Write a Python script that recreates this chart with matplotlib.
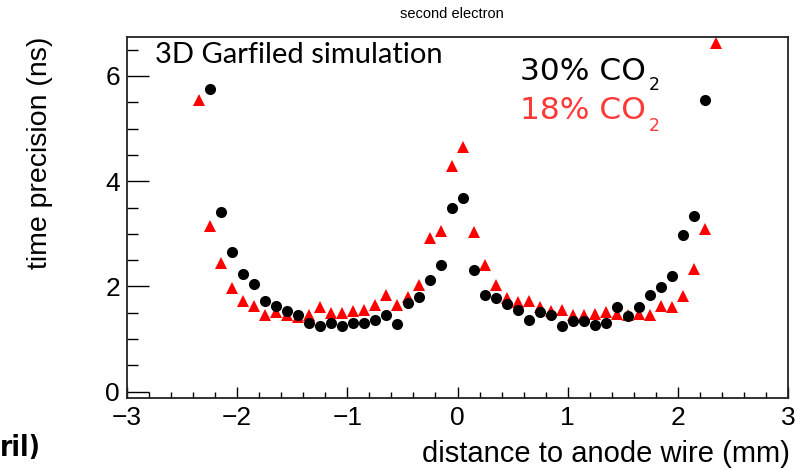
import matplotlib
matplotlib.use("Agg")
import matplotlib.pyplot as plt
from matplotlib.ticker import MultipleLocator

# --- data -------------------------------------------------------------
x_co2_30 = [-2.25, -2.15, -2.05, -1.95, -1.85, -1.75, -1.65, -1.55, -1.45, -1.35,
            -1.25, -1.15, -1.05, -0.95, -0.85, -0.75, -0.65, -0.55, -0.45, -0.35,
            -0.25, -0.15, -0.05, 0.05, 0.15, 0.25, 0.35, 0.45, 0.55, 0.65,
            0.75, 0.85, 0.95, 1.05, 1.15, 1.25, 1.35, 1.45, 1.55, 1.65,
            1.75, 1.85, 1.95, 2.05, 2.15, 2.25]
y_co2_30 = [5.76, 3.42, 2.65, 2.24, 2.05, 1.73, 1.62, 1.53, 1.46, 1.31,
            1.25, 1.30, 1.24, 1.31, 1.31, 1.37, 1.46, 1.29, 1.69, 1.80,
            2.13, 2.40, 3.50, 3.69, 2.32, 1.84, 1.78, 1.67, 1.56, 1.37,
            1.51, 1.46, 1.25, 1.35, 1.35, 1.27, 1.31, 1.61, 1.43, 1.61,
            1.83, 1.98, 2.19, 2.98, 3.33, 5.55]

x_co2_18 = [-2.35, -2.25, -2.15, -2.05, -1.95, -1.85, -1.75, -1.65, -1.55, -1.45,
            -1.35, -1.25, -1.15, -1.05, -0.95, -0.85, -0.75, -0.65, -0.55, -0.45,
            -0.35, -0.25, -0.15, -0.05, 0.05, 0.15, 0.25, 0.35, 0.45, 0.55,
            0.65, 0.75, 0.85, 0.95, 1.05, 1.15, 1.25, 1.35, 1.45, 1.55,
            1.65, 1.75, 1.85, 1.95, 2.05, 2.15, 2.25, 2.35]
y_co2_18 = [5.54, 3.14, 2.45, 1.97, 1.72, 1.63, 1.45, 1.51, 1.46, 1.42,
            1.46, 1.60, 1.49, 1.49, 1.53, 1.55, 1.65, 1.84, 1.64, 1.79,
            2.02, 2.92, 3.05, 4.28, 4.65, 3.03, 2.41, 2.03, 1.78, 1.71,
            1.73, 1.61, 1.53, 1.55, 1.46, 1.46, 1.48, 1.51, 1.48, 1.46,
            1.48, 1.46, 1.62, 1.60, 1.81, 2.33, 3.09, 6.62]

title = "second electron"
x_label = "distance to anode wire (mm)"
y_label = "time precision (ns)"
label_30 = "30% CO"
label_18 = "18% CO"
subscript = "2"
sim_text = "3D Garfiled simulation"
fragment = "ril)"

# --- figure -----------------------------------------------------------
W, H = 808, 471
fig = plt.figure(figsize=(W / 100, H / 100), dpi=100)
ax = fig.add_axes([127 / W, 1 - 398 / H, (788 - 127) / W, (398 - 37) / H])

ax.plot(x_co2_18, y_co2_18, linestyle="none", marker="^", ms=9, color="#ff0000",
        markeredgewidth=0)
ax.plot(x_co2_30, y_co2_30, linestyle="none", marker="o", ms=8, color="black",
        markeredgewidth=0)

ax.set_xlim(-3, 3)
ax.set_ylim(-0.12, 6.74)

ax.xaxis.set_major_locator(MultipleLocator(1))
ax.xaxis.set_minor_locator(MultipleLocator(0.2))
ax.yaxis.set_major_locator(MultipleLocator(2))
ax.yaxis.set_minor_locator(MultipleLocator(0.5))

tickfont = "Liberation Sans"
ax.tick_params(axis="x", which="major", direction="in", length=8, width=1.0,
               pad=6, labelsize=19, top=False)
ax.tick_params(axis="x", which="minor", direction="in", length=4, width=1.0, top=False)
ax.tick_params(axis="y", which="major", direction="in", length=16, width=1.0,
               pad=5, labelsize=19, right=False)
ax.tick_params(axis="y", which="minor", direction="in", length=8, width=1.0, right=False)
for lab in ax.get_xticklabels() + ax.get_yticklabels():
    lab.set_fontfamily(tickfont)
for sp in ax.spines.values():
    sp.set_linewidth(1.3)
    sp.set_color("#222222")

# axis titles
fig.text(790 / W, 1 - 462 / H, x_label, ha="right", va="baseline",
         fontsize=21, family=tickfont)
fig.text(40 / W, 1 - 37 / H, y_label, ha="center", va="top", rotation=90,
         fontsize=20.5, family=tickfont)
fig.text(452 / W, 1 - 14 / H, title, ha="center", va="center",
         fontsize=10.5, family=tickfont)

# annotations
fig.text(155 / W, 1 - 63 / H, sim_text, ha="left", va="baseline",
         fontsize=21, family="Lato")
fig.text(520 / W, 1 - 80 / H, label_30, ha="left", va="baseline",
         fontsize=22.5, family="DejaVu Sans", color="black")
fig.text(649 / W, 1 - 90 / H, subscript, ha="left", va="baseline",
         fontsize=12.5, family="DejaVu Sans", color="black")
fig.text(520 / W, 1 - 119 / H, label_18, ha="left", va="baseline",
         fontsize=22.5, family="DejaVu Sans", color="#ff3838")
fig.text(649 / W, 1 - 131 / H, subscript, ha="left", va="baseline",
         fontsize=12.5, family="DejaVu Sans", color="#ff3838")

# fragment of another text at bottom left
fig.text(0 / W, 1 - 456 / H, fragment, ha="left", va="baseline",
         fontsize=20, family="DejaVu Sans", stretch="condensed", weight="bold")

fig.savefig("out.png", dpi=100)
